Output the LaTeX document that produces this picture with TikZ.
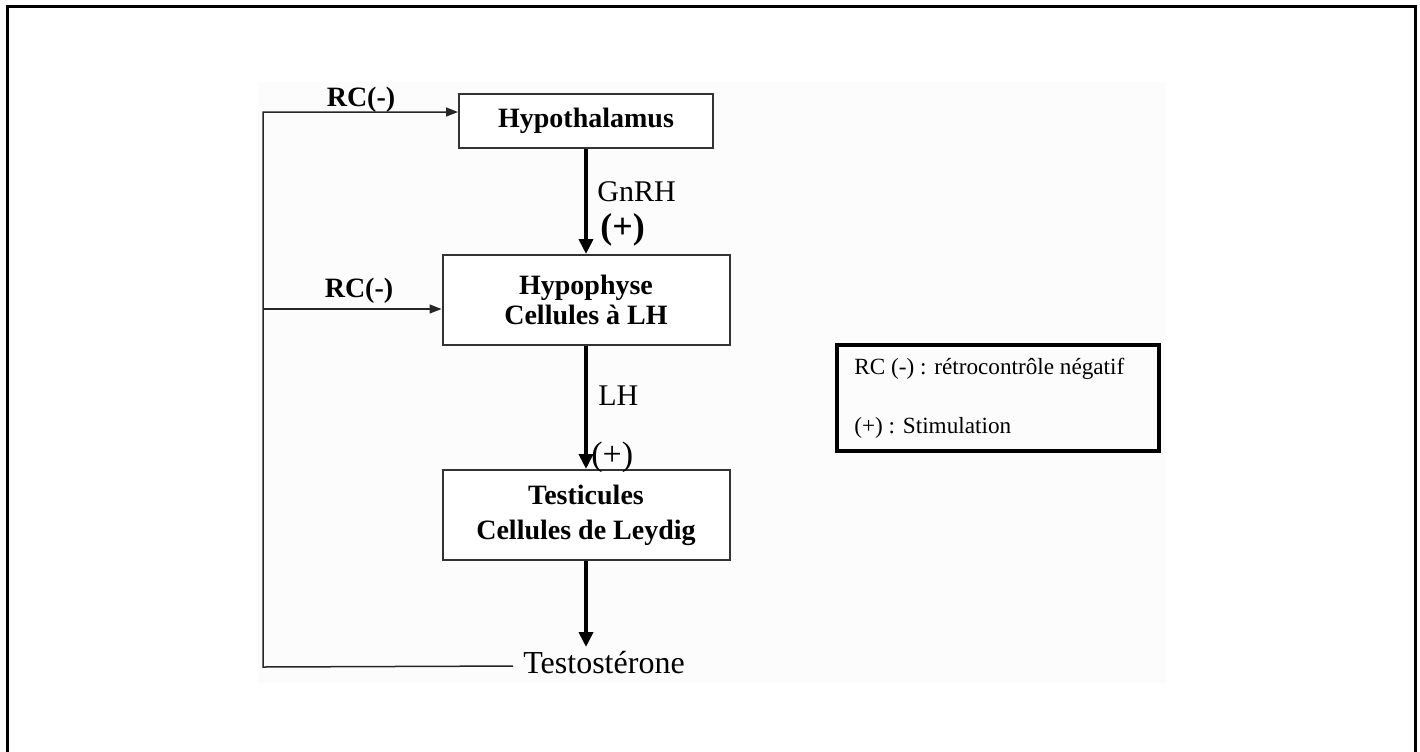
\documentclass[tikz,border=0pt]{standalone}
\usepackage{fontspec}
\setmainfont{Liberation Serif}
\usetikzlibrary{arrows.meta}

\begin{document}
\begin{tikzpicture}[x=0.5pt, y=-0.5pt,
  organ/.style={draw=black!80, line width=1pt, fill=white, inner sep=0pt, align=center,
    font=\fontsize{14}{15}\selectfont\bfseries},
  hormone/.style={line width=2pt, -{Triangle[length=7.5pt, width=7pt]}},
  fb/.style={line width=0.75pt, black!85, -{Triangle[length=6pt, width=4.5pt]}},
  lbl/.style={inner sep=0pt, font=\fontsize{15}{18}\selectfont},
  rc/.style={inner sep=0pt, font=\fontsize{14}{15}\selectfont\bfseries},
  key/.style={inner sep=0pt, anchor=base west, font=\fontsize{11.6}{14}\selectfont}]
\useasboundingbox (0,0) rectangle (1420,751);

% frame and backdrop
\draw[line width=1.5pt] (7,780) -- (7,6) -- (1415,6) -- (1415,780);
\fill[black!1] (258,82) rectangle (1166,683);

% organs
\node[organ, minimum width=127pt, minimum height=27pt] (hypoth) at (586,121) {Hypothalamus};
\node[organ, minimum width=143.5pt, minimum height=45pt] (hypoph) at (586,300) {Hypophyse\\Cellules à LH};
\node[organ, minimum width=143.5pt, minimum height=45pt,
  font=\fontsize{14}{17.5}\selectfont\bfseries] (testic) at (586,515) {Testicules\\Cellules de Leydig};
\node[lbl, anchor=base west, font=\fontsize{16}{18}\selectfont] (testo) at (523,673) {Testostérone};

% labels
\node[lbl, anchor=west] (gnrh) at (597,192) {GnRH};
\node[lbl, anchor=west, font=\fontsize{18}{20}\selectfont\bfseries] (stim1) at (600,230) {(+)};
\node[lbl, anchor=west] (lh) at (598,396) {LH};
\node[lbl, anchor=west, font=\fontsize{17}{20}\selectfont] (stim2) at (591,457) {(+)};
\node[rc] (rc1) at (361,100) {RC(-)};
\node[rc] (rc2) at (359,291) {RC(-)};

% stimulation
\coordinate (tip) at (586,647);
\draw[hormone] (hypoth) -- (hypoph);
\draw[hormone] (hypoph) -- (testic);
\draw[hormone] (testic) -- (tip);

% feedback loop
\coordinate (corner) at (263,667);
\coordinate (inHt) at ([yshift=4.5pt]hypoth.west);
\coordinate (inHp) at ([yshift=-4.5pt]hypoph.west);
\draw[fb] ([xshift=-5pt,yshift=-2pt]testo.west) -- (corner) |- (inHt);
\draw[fb] (inHp -| corner) -- (inHp);

% legend
\node[draw, line width=2pt, minimum width=161pt, minimum height=53pt] (legend) at (998,398) {};
\node[key] (key1) at (854,374) {RC (-) : rétrocontrôle négatif};
\node[key] (key2) at (854,433) {(+) : Stimulation};
\end{tikzpicture}
\end{document}
